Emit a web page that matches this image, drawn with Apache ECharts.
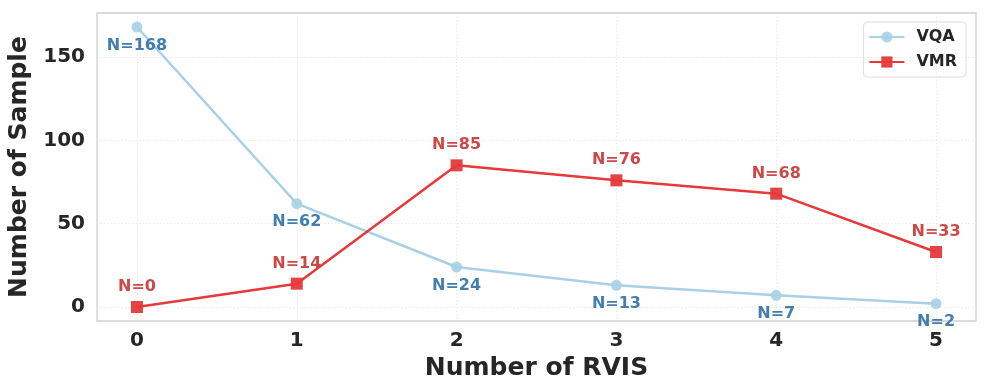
<!DOCTYPE html>
<html>
<head>
<meta charset="utf-8">
<script src="https://cdn.jsdelivr.net/npm/echarts@6/dist/echarts.min.js"></script>
<style>html,body{margin:0;padding:0;background:#fff}#c{width:986px;height:383px}</style>
</head>
<body>
<div id="c"></div>
<script>
const xValues = [0, 1, 2, 3, 4, 5];
const vqaValues = [168, 62, 24, 13, 7, 2];
const vmrValues = [0, 14, 85, 76, 68, 33];
const yTicks = [0, 50, 100, 150];
const xTicks = [0, 1, 2, 3, 4, 5];

const chart = echarts.init(document.getElementById('c'));
const font = 'DejaVu Sans';
const gridLine = {show: true, lineStyle: {color: '#e3e3e3', type: [1.5, 2], width: 0.8}};
chart.setOption({
  animation: false,
  textStyle: {fontFamily: font},
  grid: {left: 97, right: 10, top: 13, bottom: 62, outerBoundsMode: 'none', containLabel: false,
    show: true, borderColor: '#d0d0d0', borderWidth: 1.3, backgroundColor: '#fff'},
  legend: {
    right: 20, top: 22, orient: 'vertical', itemGap: 9,
    padding: [7, 9, 7, 5],
    borderColor: '#dcdcdc', borderWidth: 1, borderRadius: 4,
    itemWidth: 35, itemHeight: 14,
    textStyle: {fontFamily: font, fontWeight: 'bold', fontSize: 16, color: '#262626', padding: [0, 0, 0, 7]},
    data: ['VQA', 'VMR']
  },
  xAxis: {
    type: 'value', min: -0.25, max: 5.25,
    name: 'Number of RVIS', nameLocation: 'middle', nameGap: 34,
    nameTextStyle: {fontFamily: font, fontWeight: 'bold', fontSize: 25, color: '#262626'},
    axisLine: {show: false}, axisTick: {show: false, customValues: xTicks},
    axisLabel: {customValues: xTicks, fontFamily: font, fontWeight: 'bold', fontSize: 20, color: '#262626', margin: 10},
    splitLine: gridLine
  },
  yAxis: {
    type: 'value', min: -8.4, max: 176.4,
    name: 'Number of Sample', nameLocation: 'middle', nameGap: 64,
    nameTextStyle: {fontFamily: font, fontWeight: 'bold', fontSize: 25, color: '#262626'},
    axisLine: {show: false}, axisTick: {show: false, customValues: yTicks},
    axisLabel: {customValues: yTicks, fontFamily: font, fontWeight: 'bold', fontSize: 20, color: '#262626', margin: 12},
    splitLine: gridLine
  },
  series: [
    {
      name: 'VQA', type: 'line',
      data: xValues.map((x, i) => [x, vqaValues[i]]),
      symbol: 'circle', symbolSize: 11,
      itemStyle: {color: '#a9d0e6', opacity: 0.9},
      lineStyle: {color: '#a9d0e6', width: 2.5},
      label: {show: true, position: 'bottom', distance: 5, formatter: p => 'N=' + p.value[1],
        fontFamily: font, fontWeight: 'bold', fontSize: 16, color: '#2f70a5'},
      z: 2
    },
    {
      name: 'VMR', type: 'line',
      data: xValues.map((x, i) => [x, vmrValues[i]]),
      symbol: 'rect', symbolSize: 12,
      itemStyle: {color: '#e5393a', opacity: 0.95},
      lineStyle: {color: '#e5393a', width: 2.5},
      label: {show: true, position: 'top', distance: 6, formatter: p => 'N=' + p.value[1],
        fontFamily: font, fontWeight: 'bold', fontSize: 16, color: '#c8403f'},
      z: 3
    }
  ]
});
</script>
</body>
</html>
